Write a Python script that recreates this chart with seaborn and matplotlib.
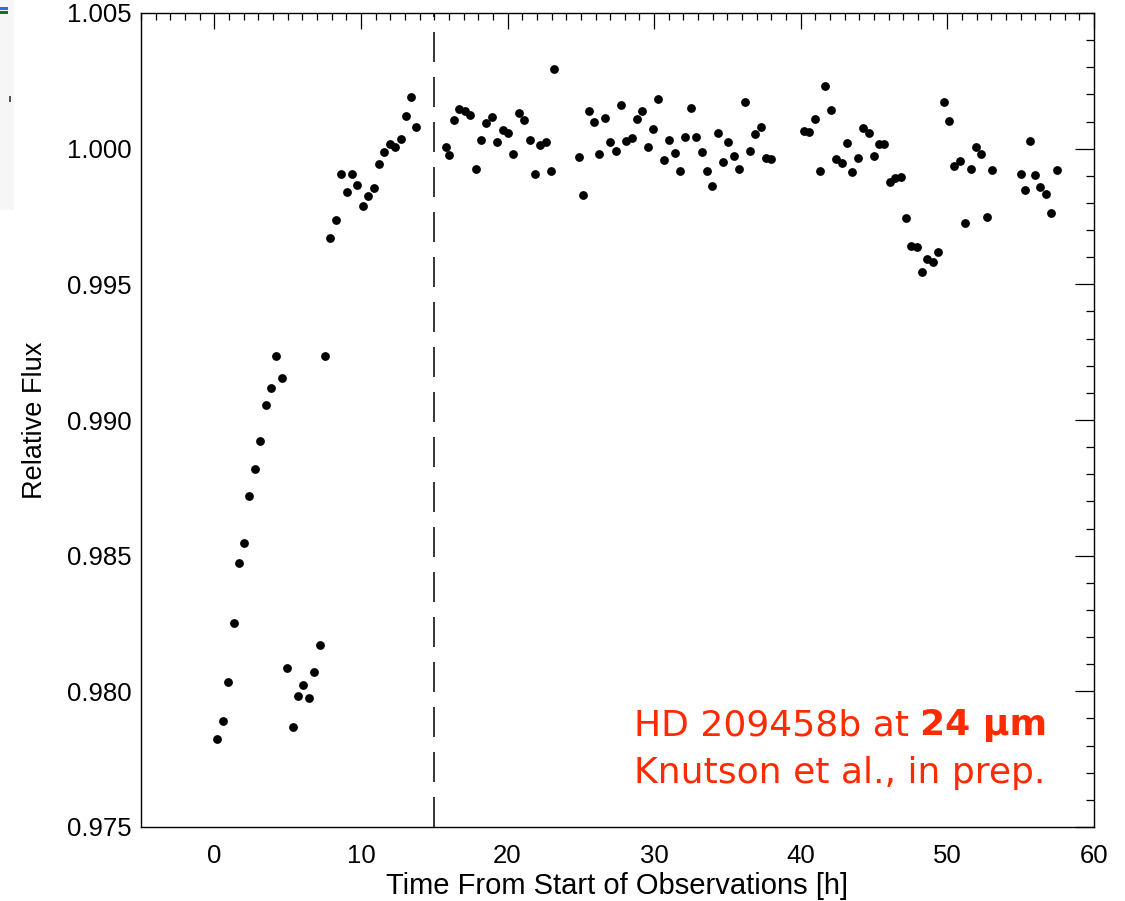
import matplotlib
matplotlib.use("Agg")
import matplotlib.pyplot as plt
from matplotlib.ticker import MultipleLocator, FormatStrFormatter
from matplotlib.patches import Rectangle
import seaborn as sns
import pandas as pd

# Light curve of HD 209458b at 24 micron (binned points)
time_h = [
    0.20, 0.59, 0.95, 1.31, 1.68, 2.04, 2.40, 2.79, 3.15, 3.52,
    3.88, 4.24, 4.61, 4.97, 5.35, 5.71, 6.08, 6.46, 6.80, 7.19,
    7.55, 7.91, 8.28, 8.64, 9.03, 9.39, 9.75, 10.12, 10.50, 10.86,
    11.22, 11.59, 11.95, 12.33, 12.70, 13.06, 13.42, 13.79,
    15.80, 15.99, 16.35, 16.71, 17.07, 17.46, 17.82, 18.18, 18.55, 18.91,
    19.30, 19.66, 20.02, 20.39, 20.75, 21.11, 21.50, 21.86, 22.22, 22.59,
    22.97, 23.20, 24.88, 25.15, 25.53, 25.90, 26.26, 26.65, 27.01, 27.37,
    27.73, 28.10, 28.46, 28.84, 29.20, 29.57, 29.93, 30.29, 30.66, 31.02,
    31.41, 31.77, 32.13, 32.50, 32.86, 33.24, 33.61, 33.97, 34.33, 34.69,
    35.06, 35.42, 35.80, 36.17, 36.53, 36.89, 37.26, 37.62, 38.00,
    40.22, 40.59, 40.95, 41.31, 41.68, 42.04, 42.43, 42.79, 43.15, 43.52,
    43.88, 44.24, 44.63, 44.99, 45.35, 45.71, 46.10, 46.46, 46.82, 47.19,
    47.55, 47.91, 48.28, 48.64, 49.00, 49.39, 49.75, 50.12, 50.48, 50.86,
    51.23, 51.59, 51.95, 52.31, 52.67, 53.04,
    54.99, 55.26, 55.63, 55.99, 56.35, 56.73, 57.10, 57.46,
]
rel_flux = [
    0.97824, 0.97890, 0.98035, 0.98253, 0.98473, 0.98548, 0.98719, 0.98818, 0.98923, 0.99057,
    0.99118, 0.99236, 0.99156, 0.98085, 0.97867, 0.97983, 0.98023, 0.97975, 0.98073, 0.98170,
    0.99237, 0.99671, 0.99736, 0.99908, 0.99842, 0.99908, 0.99865, 0.99787, 0.99827, 0.99856,
    0.99945, 0.99987, 1.00017, 1.00006, 1.00036, 1.00120, 1.00191, 1.00079,
    1.00005, 0.99978, 1.00105, 1.00146, 1.00139, 1.00123, 0.99924, 1.00033, 1.00096, 1.00117,
    1.00024, 1.00070, 1.00059, 0.99980, 1.00130, 1.00105, 1.00033, 0.99906, 1.00015, 1.00024,
    0.99917, 1.00293, 0.99968, 0.99830, 1.00138, 1.00099, 0.99980, 1.00112, 1.00024, 0.99992,
    1.00161, 1.00028, 1.00038, 1.00110, 1.00139, 1.00007, 1.00074, 1.00182, 0.99958, 1.00033,
    0.99984, 0.99917, 1.00044, 1.00151, 1.00042, 0.99988, 0.99918, 0.99863, 1.00058, 0.99952,
    1.00026, 0.99973, 0.99926, 1.00172, 0.99993, 1.00055, 1.00081, 0.99967, 0.99962,
    1.00066, 1.00061, 1.00108, 0.99919, 1.00232, 1.00142, 0.99961, 0.99946, 1.00021, 0.99913,
    0.99966, 1.00076, 1.00059, 0.99974, 1.00017, 1.00017, 0.99876, 0.99893, 0.99897, 0.99744,
    0.99642, 0.99637, 0.99546, 0.99595, 0.99583, 0.99619, 1.00173, 1.00101, 0.99935, 0.99954,
    0.99725, 0.99925, 1.00005, 0.99980, 0.99749, 0.99923,
    0.99907, 0.99849, 1.00028, 0.99903, 0.99860, 0.99834, 0.99762, 0.99922,
]
marker_time = 15.0
x_limits = (-5, 60)
y_limits = (0.975, 1.005)

df = pd.DataFrame({"time": time_h, "flux": rel_flux})

sns.set_theme(style="white")
plt.rcParams["font.family"] = ["Liberation Sans", "DejaVu Sans"]

W, H = 1125, 901
fig = plt.figure(figsize=(W / 100, H / 100), dpi=100)
fig.patch.set_facecolor("white")

# small slide remnants along the left edge
fig.patches.append(Rectangle((0, 1 - 210 / H), 14 / W, 210 / H, transform=fig.transFigure,
                             facecolor="#f6f6f6", edgecolor="none", zorder=-5))
fig.patches.append(Rectangle((0, 1 - 9.5 / H), 8 / W, 2.7 / H, transform=fig.transFigure,
                             facecolor="#2a6fe8", edgecolor="none"))
fig.patches.append(Rectangle((0, 1 - 14 / H), 8 / W, 3 / H, transform=fig.transFigure,
                             facecolor="#1d6b22", edgecolor="none"))
fig.patches.append(Rectangle((9 / W, 1 - 102 / H), 2 / W, 6 / H, transform=fig.transFigure,
                             facecolor="#555555", edgecolor="none"))

ax = fig.add_axes([141 / W, 1 - 827 / H, (1094 - 141) / W, (827 - 13) / H])
ax.set_facecolor("white")

sns.scatterplot(data=df, x="time", y="flux", ax=ax, color="black", s=40,
                linewidth=0, legend=False, zorder=3)

# start of the eclipse window
lw = 1.1
ax.axvline(marker_time, color="black", lw=lw, linestyle=(0, (21.6 / lw, 10.8 / lw)), zorder=2)

ax.set_xlim(*x_limits)
ax.set_ylim(*y_limits)
ax.xaxis.set_major_locator(MultipleLocator(10))
ax.xaxis.set_minor_locator(MultipleLocator(1))
ax.yaxis.set_major_locator(MultipleLocator(0.005))
ax.yaxis.set_minor_locator(MultipleLocator(0.001))
ax.yaxis.set_major_formatter(FormatStrFormatter("%.3f"))

for s in ax.spines.values():
    s.set_color("black")
    s.set_linewidth(1.0)
    s.set_visible(True)

ax.tick_params(which="both", direction="in", top=True, right=True, color="black",
               width=0.9, labelsize=18.5, labelcolor="black")
ax.tick_params(axis="x", which="major", length=11.5, pad=12)
ax.tick_params(axis="x", which="minor", length=5)
ax.tick_params(axis="y", which="major", length=13.5, pad=6.5)
ax.tick_params(axis="y", which="minor", length=6)

ax.set_xlabel("Time From Start of Observations [h]", fontsize=21, color="black", labelpad=3)
ax.set_ylabel("Relative Flux", fontsize=19.5, color="black", labelpad=14)

red = "#ff2a00"
t1 = ax.text(0.517, 0.113, "HD 209458b at", transform=ax.transAxes, fontsize=26,
             family="DejaVu Sans", color=red, ha="left", va="baseline")
ax.annotate("24 µm", xy=(1, 0), xycoords=t1, xytext=(8.3, 0), textcoords="offset points",
            fontsize=26, family="DejaVu Sans", fontweight="bold", color=red,
            ha="left", va="bottom")
ax.text(0.517, 0.054, "Knutson et al., in prep.", transform=ax.transAxes, fontsize=26,
        family="DejaVu Sans", color=red, ha="left", va="baseline")

fig.savefig("out.png", dpi=100, facecolor="white")
